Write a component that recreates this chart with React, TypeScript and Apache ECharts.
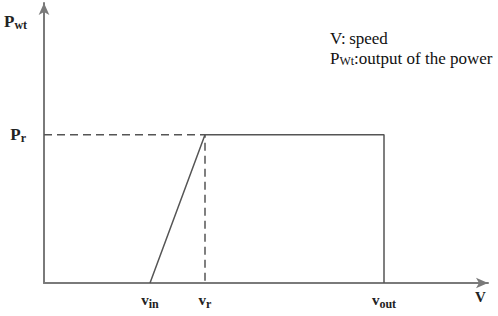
import React, { useEffect, useRef } from "react";
import * as echarts from "echarts";

const speedTicks = [5.3, 8.05, 17];
const speedTickNames = ["in", "r", "out"];
const powerTicks = [1];
const curveX = [5.3, 8.05, 17, 17];
const curveY = [0, 1, 1, 0];
const guideX = [0, 8.05, 8.05];
const guideY = [1, 1, 0];
const xMax = 22.2;
const yMax = 1.89;

const FONT = "Liberation Serif";

export default function App() {
  const ref = useRef<HTMLDivElement>(null);
  useEffect(() => {
    if (!ref.current) return;
    const chart = echarts.init(ref.current, undefined, { renderer: "svg" });
    const sub = (s: string) => `{m|v}{s|${s}}`;
    chart.setOption({
      animation: false,
      backgroundColor: "#ffffff",
      grid: { left: 44, right: 10, top: 3, bottom: 33 },
      xAxis: {
        type: "value",
        min: 0,
        max: xMax,
        axisLine: {
          show: true,
          symbol: ["none", "arrow"],
          symbolSize: [8, 12],
          lineStyle: { color: "#7a7a7a", width: 2 },
        },
        axisTick: { show: false },
        splitLine: { show: false },
        axisLabel: {
          customValues: speedTicks,
          margin: 8,
          formatter: (v: number) => {
            const i = speedTicks.indexOf(v);
            return i >= 0 ? sub(speedTickNames[i]) : "";
          },
          rich: {
            m: { fontFamily: FONT, fontSize: 15, fontWeight: "bold", color: "#222", lineHeight: 18 },
            s: { fontFamily: FONT, fontSize: 12, fontWeight: "bold", color: "#222", padding: [7, 0, 0, 0], lineHeight: 18 },
          },
        },
      },
      yAxis: {
        type: "value",
        min: 0,
        max: yMax,
        axisLine: {
          show: true,
          symbol: ["none", "arrow"],
          symbolSize: [8, 12],
          lineStyle: { color: "#7a7a7a", width: 2 },
        },
        axisTick: { show: false },
        splitLine: { show: false },
        axisLabel: {
          customValues: powerTicks,
          margin: 18,
          formatter: () => "{m|P}{s|r}",
          rich: {
            m: { fontFamily: FONT, fontSize: 17, fontWeight: "bold", color: "#222", lineHeight: 20 },
            s: { fontFamily: FONT, fontSize: 12, fontWeight: "bold", color: "#222", padding: [7, 0, 0, 0], lineHeight: 20 },
          },
        },
      },
      graphic: [
        {
          type: "text",
          left: 4,
          top: 12,
          style: {
            rich: {
              m: { fontFamily: FONT, fontSize: 17, fontWeight: "bold", fill: "#222", lineHeight: 20 },
              s: { fontFamily: FONT, fontSize: 12, fontWeight: "bold", fill: "#222", padding: [7, 0, 0, 0], lineHeight: 20 },
            },
            text: "{m|P}{s|wt}",
          },
        },
        {
          type: "text",
          left: 475,
          top: 289,
          style: { text: "V", fontFamily: FONT, fontSize: 15, fontWeight: "bold", fill: "#222" },
        },
        {
          type: "text",
          left: 330,
          top: 30,
          style: { text: "V:\u2009speed", fontFamily: FONT, fontSize: 17, fill: "#111" },
        },
        {
          type: "text",
          left: 330,
          top: 49,
          style: {
            rich: {
              m: { fontFamily: FONT, fontSize: 17, fill: "#111", lineHeight: 22 },
              s: { fontFamily: FONT, fontSize: 12, fill: "#111", padding: [6, 0, 0, 0], lineHeight: 22 },
            },
            text: "{m|P}{s|Wt}{m|:output of the power}",
          },
        },
      ],
      series: [
        {
          type: "line",
          data: guideX.map((x, i) => [x, guideY[i]]),
          symbol: "none",
          lineStyle: { color: "#555", width: 1.5, type: [8, 5] },
          z: 2,
        },
        {
          type: "line",
          data: curveX.map((x, i) => [x, curveY[i]]),
          symbol: "none",
          lineStyle: { color: "#555", width: 1.5 },
          z: 3,
        },
      ],
    });
    return () => chart.dispose();
  }, []);
  return <div ref={ref} style={{ width: 498, height: 316, position: "absolute", left: 0, top: 0 }} />;
}
